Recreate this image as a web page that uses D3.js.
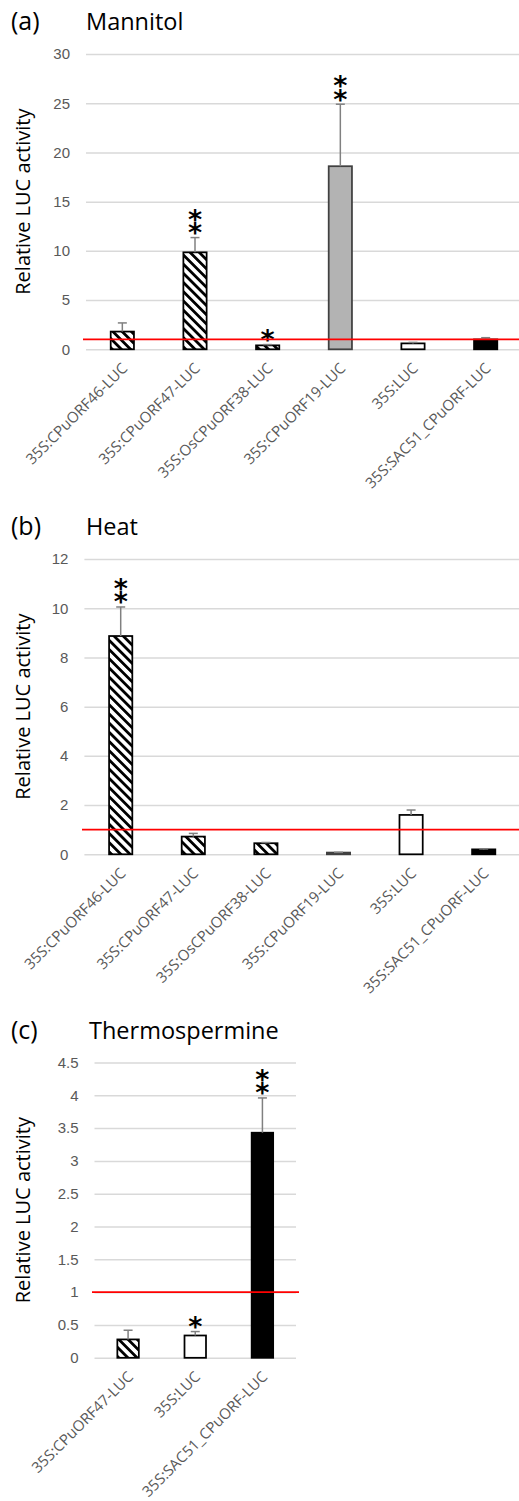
<!DOCTYPE html>
<html>
<head>
<meta charset="utf-8">
<script src="https://cdn.jsdelivr.net/npm/d3@7"></script>
<style>
  body { margin: 0; background: #fff; }
  svg { display: block; font-family: 'Open Sans', sans-serif; }
  .tick-label { fill: #595959; font-size: 15px; }
  .cat-label { fill: #595959; font-size: 15px; }
  .panel-title { fill: #000; font-size: 23.5px; }
  .panel-tag { fill: #000; font-size: 25px; }
  .y-title { fill: #000; font-size: 20px; }
  .star { fill: #000; font-family: 'DejaVu Sans', sans-serif; font-weight: bold; font-size: 27px; }
</style>
</head>
<body>
<div id="container"></div>
<script>
const w = 519;
const h = 1501;

// Data
const mannitolCategories = ['35S:CPuORF46-LUC', '35S:CPuORF47-LUC', '35S:OsCPuORF38-LUC', '35S:CPuORF19-LUC', '35S:LUC', '35S:SAC51_CPuORF-LUC'];
const mannitolValues = [1.8, 9.85, 0.4, 18.6, 0.6, 1.0];
const mannitolErrors = [0.88, 1.5, 0.08, 6.3, 0.1, 0.18];
const mannitolStars = ['', '**', '*', '**', '', ''];
const mannitolTicks = [0, 5, 10, 15, 20, 25, 30];

const heatCategories = ['35S:CPuORF46-LUC', '35S:CPuORF47-LUC', '35S:OsCPuORF38-LUC', '35S:CPuORF19-LUC', '35S:LUC', '35S:SAC51_CPuORF-LUC'];
const heatValues = [8.87, 0.72, 0.45, 0.07, 1.6, 0.2];
const heatErrors = [1.18, 0.13, 0.03, 0.01, 0.2, 0.02];
const heatStars = ['**', '', '', '', '', ''];
const heatTicks = [0, 2, 4, 6, 8, 10, 12];

const thermoCategories = ['35S:CPuORF47-LUC', '35S:LUC', '35S:SAC51_CPuORF-LUC'];
const thermoValues = [0.28, 0.34, 3.43];
const thermoErrors = [0.14, 0.06, 0.53];
const thermoStars = ['', '*', '**'];
const thermoTicks = [0, 0.5, 1, 1.5, 2, 2.5, 3, 3.5, 4, 4.5];

const referenceLevel = 1;

// bar look per construct
const fillFor = {
  '35S:CPuORF46-LUC': 'url(#hatch)',
  '35S:CPuORF47-LUC': 'url(#hatch)',
  '35S:OsCPuORF38-LUC': 'url(#hatch)',
  '35S:CPuORF19-LUC': '#b3b3b3',
  '35S:LUC': '#ffffff',
  '35S:SAC51_CPuORF-LUC': '#000000'
};

const svg = d3.select('#container')
              .append('svg')
              .attr('width', w)
              .attr('height', h);

svg.append('rect').attr('width', w).attr('height', h).attr('fill', '#fff');

const defs = svg.append('defs');
const hatch = defs.append('pattern')
                  .attr('id', 'hatch')
                  .attr('patternUnits', 'userSpaceOnUse')
                  .attr('width', 6.5)
                  .attr('height', 6.5)
                  .attr('patternTransform', 'rotate(-45)');
hatch.append('rect').attr('width', 6.5).attr('height', 6.5).attr('fill', '#fff');
hatch.append('rect').attr('width', 2.8).attr('height', 6.5).attr('fill', '#000');

drawPanel({
  tag: '(a)', title: 'Mannitol', titleX: 86, titleY: 30,
  top: 54, bottom: 349.3, x0: 86, x1: 522, gridEnd: 519, redStart: 83, redEnd: 519,
  categories: mannitolCategories, values: mannitolValues, errors: mannitolErrors,
  stars: mannitolStars, ticks: mannitolTicks, max: 30
});

drawPanel({
  tag: '(b)', title: 'Heat', titleX: 86, titleY: 535,
  top: 559, bottom: 854.3, x0: 84.4, x1: 520, gridEnd: 519, redStart: 82, redEnd: 519,
  categories: heatCategories, values: heatValues, errors: heatErrors,
  stars: heatStars, ticks: heatTicks, max: 12
});

drawPanel({
  tag: '(c)', title: 'Thermospermine', titleX: 89, titleY: 1038.5,
  top: 1062.5, bottom: 1357.8, x0: 94.5, x1: 296, gridEnd: 296, redStart: 92, redEnd: 299,
  categories: thermoCategories, values: thermoValues, errors: thermoErrors,
  stars: thermoStars, ticks: thermoTicks, max: 4.5
});

function drawPanel(p) {
  const g = svg.append('g');

  const xScale = d3.scaleBand()
                   .domain(p.categories)
                   .range([p.x0, p.x1])
                   .paddingInner(0.68)
                   .paddingOuter(0.34);

  const yScale = d3.scaleLinear()
                   .domain([0, p.max])
                   .range([p.bottom, p.top]);

  // gridlines + tick labels
  const yAxis = d3.axisLeft(yScale)
                  .tickValues(p.ticks)
                  .tickFormat(d => String(d))
                  .tickSizeInner(-(p.gridEnd - p.x0))
                  .tickSizeOuter(0)
                  .tickPadding(16);

  const axisG = g.append('g')
                 .attr('transform', `translate(${p.x0}, 0)`)
                 .call(yAxis);
  axisG.select('.domain').remove();
  axisG.selectAll('line').attr('stroke', '#d9d9d9').attr('stroke-width', 1.5);
  axisG.selectAll('text')
       .attr('class', 'tick-label')
       .attr('font-family', null)
       .attr('font-size', null)
       .attr('fill', null);

  // bars
  const rows = p.categories.map((c, i) => ({ c, v: p.values[i], e: p.errors[i], s: p.stars[i] }));

  g.selectAll('.bar')
   .data(rows)
   .enter()
   .append('rect')
   .attr('class', 'bar')
   .attr('x', d => xScale(d.c))
   .attr('y', d => yScale(d.v))
   .attr('width', xScale.bandwidth())
   .attr('height', d => yScale(0) - yScale(d.v))
   .attr('fill', d => fillFor[d.c])
   .attr('stroke', d => d.c === '35S:CPuORF19-LUC' ? '#404040' : '#000')
   .attr('stroke-width', 1.75);

  // error bars (plus only)
  const cx = d => xScale(d.c) + xScale.bandwidth() / 2;
  g.selectAll('.err')
   .data(rows)
   .enter()
   .append('line')
   .attr('x1', cx).attr('x2', cx)
   .attr('y1', d => yScale(d.v))
   .attr('y2', d => yScale(d.v + d.e))
   .attr('stroke', '#808080')
   .attr('stroke-width', 1.5);

  g.selectAll('.cap')
   .data(rows)
   .enter()
   .append('line')
   .attr('x1', d => cx(d) - 4.5).attr('x2', d => cx(d) + 4.5)
   .attr('y1', d => yScale(d.v + d.e))
   .attr('y2', d => yScale(d.v + d.e))
   .attr('stroke', '#808080')
   .attr('stroke-width', 1.5);

  // significance stars, stacked
  rows.forEach(d => {
    d.s.split('').forEach((ch, k) => {
      const centre = yScale(d.v + d.e) - 11 - k * 13.5;
      g.append('text')
       .attr('class', 'star')
       .attr('x', cx(d))
       .attr('y', centre + 15.5)
       .attr('text-anchor', 'middle')
       .text(ch);
    });
  });

  // reference line at 1
  g.append('line')
   .attr('x1', p.redStart).attr('x2', p.redEnd)
   .attr('y1', yScale(referenceLevel)).attr('y2', yScale(referenceLevel))
   .attr('stroke', '#ff0000')
   .attr('stroke-width', 1.75);

  // category labels
  g.selectAll('.cat-label')
   .data(rows)
   .enter()
   .append('text')
   .attr('class', 'cat-label')
   .attr('transform', d => `translate(${cx(d) + 6}, ${p.bottom + 20}) rotate(-45)`)
   .attr('text-anchor', 'end')
   .text(d => d.c);

  // titles
  g.append('text')
   .attr('class', 'panel-tag')
   .attr('x', 11)
   .attr('y', p.titleY)
   .text(p.tag);

  g.append('text')
   .attr('class', 'panel-title')
   .attr('x', p.titleX)
   .attr('y', p.titleY)
   .text(p.title);

  g.append('text')
   .attr('class', 'y-title')
   .attr('transform', `translate(30, ${(p.top + p.bottom) / 2}) rotate(-90)`)
   .attr('text-anchor', 'middle')
   .text('Relative LUC activity');
}
</script>
</body>
</html>
